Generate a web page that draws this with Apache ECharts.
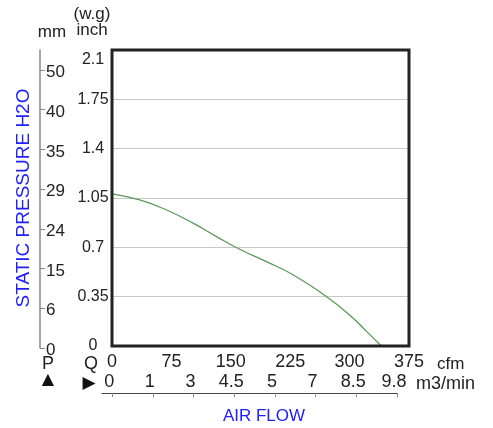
<!DOCTYPE html>
<html>
<head>
<meta charset="utf-8">
<script src="https://cdn.jsdelivr.net/npm/echarts@6/dist/echarts.min.js"></script>
<style>
html,body{margin:0;padding:0;background:#fff;}
#c{width:493px;height:428px;}
</style>
</head>
<body>
<div id="c"></div>
<script>
// Data
var airflowCfm = [0, 35, 69, 103, 132, 160, 195, 229, 271, 300, 322, 340];
var pressureInch = [1.08, 1.036, 0.965, 0.87, 0.776, 0.69, 0.598, 0.504, 0.35, 0.22, 0.10, 0];
var cfmTicks = [0, 75, 150, 225, 300, 375];
var inchTicks = [0, 0.35, 0.7, 1.05, 1.4, 1.75, 2.1];
var inchLabels = ['0', '0.35', '0.7', '1.05', '1.4', '1.75', '2.1'];
var mmLabels = ['0', '6', '15', '24', '29', '35', '40', '50'];
var m3Labels = ['0', '1', '3', '4.5', '5', '7', '8.5', '9.8'];

var FONT = 'Liberation Sans, Arial, sans-serif';
var TXT = '#222';
var BLUE = '#2020ff';

var mmIdx = mmLabels.map(function (_, i) { return i; });
var m3Idx = m3Labels.map(function (_, i) { return i; });

var chart = echarts.init(document.getElementById('c'));
chart.setOption({
  animation: false,
  backgroundColor: '#fff',
  grid: [
    { left: 112, top: 50, width: 297, height: 296, show: true, borderColor: '#222', borderWidth: 3, backgroundColor: 'transparent', z: 5 },
    { left: 40, top: 50, width: 1, height: 298 },
    { left: 102, top: 380, width: 295, height: 13 }
  ],
  xAxis: [
    {
      gridIndex: 0, type: 'value', min: 0, max: 375, interval: 75,
      axisLine: { show: false }, axisTick: { show: false }, splitLine: { show: false },
      axisLabel: { color: TXT, fontFamily: FONT, fontSize: 18, margin: 7,
        customValues: cfmTicks, formatter: function (v) { return String(v); } }
    },
    { gridIndex: 1, type: 'value', show: false },
    {
      gridIndex: 2, type: 'value', min: -0.25, max: 7, position: 'bottom',
      axisLine: { show: true, lineStyle: { color: '#444', width: 1 } },
      axisTick: { show: true, inside: false, length: 4, lineStyle: { color: '#888' }, customValues: m3Idx },
      splitLine: { show: false },
      axisLabel: { inside: true, margin: 2, color: TXT, fontFamily: FONT, fontSize: 18,
        customValues: m3Idx, padding: [0, 6, 0, 0],
        formatter: function (v) { return m3Labels[Math.round(v)]; } }
    }
  ],
  yAxis: [
    {
      gridIndex: 0, type: 'value', min: 0, max: 2.1, interval: 0.35,
      axisLine: { show: false }, axisTick: { show: false },
      splitLine: { show: true, lineStyle: { color: '#c8c8c8', width: 1 } },
      axisLabel: {
        color: TXT, fontFamily: FONT, fontSize: 16, margin: 19, align: 'center',
        customValues: inchTicks,
        formatter: function (v) {
          var i = inchTicks.findIndex(function (t) { return Math.abs(t - v) < 1e-6; });
          var s = inchLabels[i];
          return i === inchTicks.length - 1 ? '{top|' + s + '}' : s;
        },
        rich: { top: { padding: [20, 0, 0, 0], fontSize: 16, fontFamily: FONT, color: TXT } }
      }
    },
    {
      gridIndex: 1, type: 'value', min: 0, max: 7.5,
      axisLine: { show: true, lineStyle: { color: '#888', width: 1.5 } },
      axisTick: { show: true, inside: true, length: 5, lineStyle: { color: '#888' }, customValues: mmIdx },
      splitLine: { show: false },
      axisLabel: { inside: true, margin: 6, color: TXT, fontFamily: FONT, fontSize: 17,
        customValues: mmIdx, verticalAlign: 'top', padding: [-6, 0, 0, 0],
        formatter: function (v) { return mmLabels[Math.round(v)]; } }
    },
    { gridIndex: 2, type: 'value', show: false }
  ],
  series: [
    {
      type: 'line', xAxisIndex: 0, yAxisIndex: 0, smooth: true, showSymbol: false,
      lineStyle: { color: '#5a9a5a', width: 1.3 },
      data: airflowCfm.map(function (q, i) { return [q, pressureInch[i]]; }),
      z: 3
    }
  ],
  graphic: [
    { type: 'text', x: 52, y: 32, style: { text: 'mm', font: '17px ' + FONT, fill: TXT, align: 'center', verticalAlign: 'middle' } },
    { type: 'text', x: 92, y: 14, style: { text: '(w.g)', font: '17px ' + FONT, fill: TXT, align: 'center', verticalAlign: 'middle' } },
    { type: 'text', x: 92, y: 30, style: { text: 'inch', font: '17px ' + FONT, fill: TXT, align: 'center', verticalAlign: 'middle' } },
    { type: 'text', x: 24, y: 198, rotation: Math.PI / 2, style: { text: 'STATIC PRESSURE H2O', font: '19px ' + FONT, fill: BLUE, align: 'center', verticalAlign: 'middle' } },
    { type: 'text', x: 48, y: 364, style: { text: 'P', font: '18px ' + FONT, fill: TXT, align: 'center', verticalAlign: 'middle' } },
    { type: 'text', x: 48, y: 380, style: { text: '▲', font: '16px DejaVu Sans', fill: '#111', align: 'center', verticalAlign: 'middle' } },
    { type: 'text', x: 91, y: 364, style: { text: 'Q', font: '18px ' + FONT, fill: TXT, align: 'center', verticalAlign: 'middle' } },
    { type: 'text', x: 89, y: 384, style: { text: '▶', font: '17px DejaVu Sans', fill: '#111', align: 'center', verticalAlign: 'middle' } },
    { type: 'text', x: 437, y: 364, style: { text: 'cfm', font: '17px ' + FONT, fill: TXT, align: 'left', verticalAlign: 'middle' } },
    { type: 'text', x: 416, y: 384, style: { text: 'm3/min', font: '18px ' + FONT, fill: TXT, align: 'left', verticalAlign: 'middle' } },
    { type: 'text', x: 264, y: 416, style: { text: 'AIR FLOW', font: '17px ' + FONT, fill: BLUE, align: 'center', verticalAlign: 'middle' } }
  ]
});
</script>
</body>
</html>
